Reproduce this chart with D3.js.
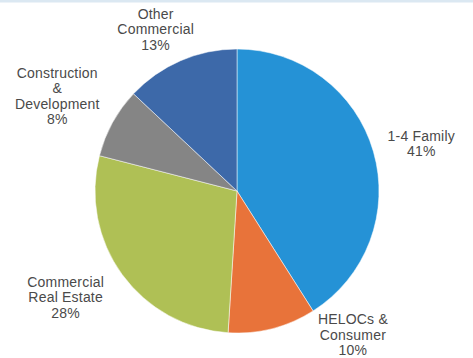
<!DOCTYPE html>
<html lang="en">
<head>
  <meta charset="UTF-8">
  <title>Loan Portfolio Mix</title>
  <script src="https://d3js.org/d3.v7.min.js"></script>
  <style>
    body {
      margin: 0;
      padding: 0;
      background: #fff;
    }
    .label {
      font: 14px "Liberation Sans", Arial, sans-serif;
      fill: #4a4a4a;
      text-anchor: middle;
      letter-spacing: 0.2px;
    }
  </style>
</head>
<body>
  <script>
    // clockwise from 12 o'clock
    const categories = ["1-4 Family", "HELOCs & Consumer", "Commercial Real Estate", "Construction & Development", "Other Commercial"];
    const labelLines = [["1-4 Family"], ["HELOCs &", "Consumer"], ["Commercial", "Real Estate"], ["Construction", "&", "Development"], ["Other", "Commercial"]];
    const shares = [41, 10, 28, 8, 13];
    const colours = ["#2592d6", "#e8733a", "#afc055", "#858585", "#3d69a9"];

    const width = 473, height = 358;
    const cx = 237, cy = 191, r = 142;

    const svg = d3.select("body").append("svg")
      .attr("width", width)
      .attr("height", height);

    // faint frame band along the top edge
    svg.append("rect")
      .attr("x", 0).attr("y", 0)
      .attr("width", width).attr("height", 2.5)
      .attr("fill", "#dbe8f2");

    const data = categories.map((name, i) => ({ name, value: shares[i], lines: labelLines[i], colour: colours[i] }));

    const pie = d3.pie().value(d => d.value).sort(null);
    const arcs = pie(data);

    const arc = d3.arc().innerRadius(0).outerRadius(r);
    const labelArc = d3.arc().innerRadius(r * 1.3).outerRadius(r * 1.3);

    const g = svg.append("g").attr("transform", `translate(${cx},${cy})`);

    g.selectAll("path")
      .data(arcs)
      .join("path")
      .attr("d", arc)
      .attr("fill", d => d.data.colour)
      .attr("stroke", "#fff")
      .attr("stroke-width", 0.5);

    // Excel's best-fit moves a few labels off the plain centroid
    const nudge = {
      "HELOCs & Consumer": [70, -35],
      "Other Commercial": [-8, 8],
      "Construction & Development": [-18, -6],
      "1-4 Family": [7, 4],
      "Commercial Real Estate": [-22, -2]
    };
    const lineH = 15.5;

    const labels = g.selectAll("text")
      .data(arcs)
      .join("text")
      .attr("class", "label")
      .attr("transform", d => {
        const [x, y] = labelArc.centroid(d);
        const [nx, ny] = nudge[d.data.name] || [0, 0];
        const lines = d.data.lines.length + 1;
        return `translate(${x + nx},${y + ny - (lines - 1) * lineH / 2})`;
      });

    labels.each(function(d) {
      const t = d3.select(this);
      d.data.lines.concat([d.data.value + "%"]).forEach((line, i) => {
        t.append("tspan")
          .attr("x", 0)
          .attr("y", i * lineH)
          .attr("dy", "0.35em")
          .text(line);
      });
    });
  </script>
</body>
</html>
